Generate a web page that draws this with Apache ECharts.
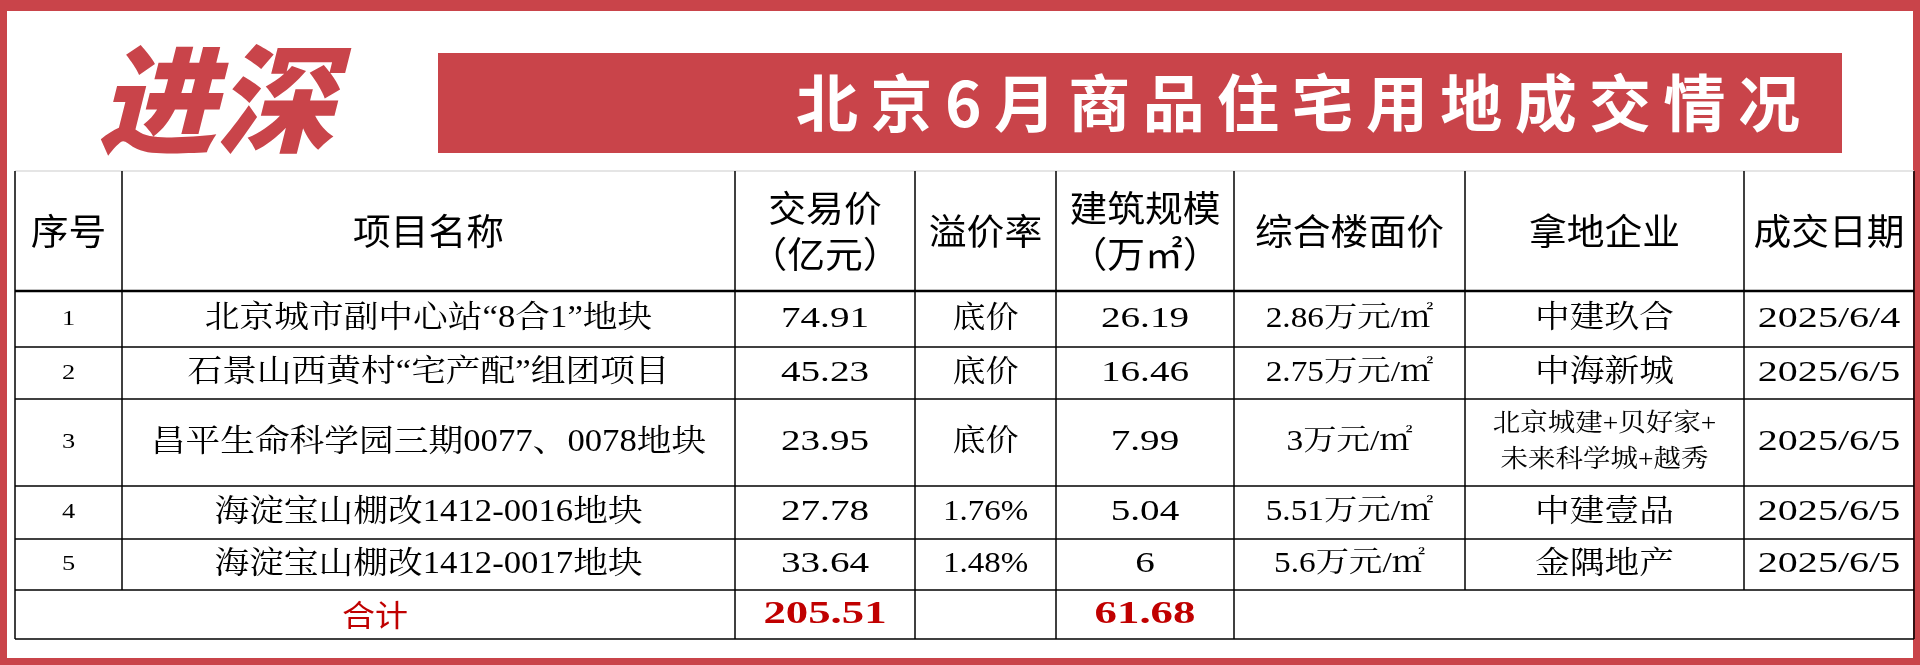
<!DOCTYPE html>
<html><head><meta charset="utf-8">
<script src="https://cdn.jsdelivr.net/npm/echarts@6/dist/echarts.min.js"></script>
<style>html,body{margin:0;padding:0;background:#fff}#main{width:1920px;height:665px}</style>
</head><body><div id="main"></div>
<script>
var title = '北京6月商品住宅用地成交情况';
var headers = ['序号', '项目名称', '交易价\n（亿元）', '溢价率', '建筑规模\n（万㎡）', '综合楼面价', '拿地企业', '成交日期'];
var seq = ['1', '2', '3', '4', '5'];
var names = ['北京城市副中心站“8合1”地块', '石景山西黄村“宅产配”组团项目', '昌平生命科学园三期0077、0078地块', '海淀宝山棚改1412-0016地块', '海淀宝山棚改1412-0017地块'];
var prices = ['74.91', '45.23', '23.95', '27.78', '33.64'];
var premium = ['底价', '底价', '底价', '1.76%', '1.48%'];
var scale = ['26.19', '16.46', '7.99', '5.04', '6'];
var floorPrice = ['2.86万元/㎡', '2.75万元/㎡', '3万元/㎡', '5.51万元/㎡', '5.6万元/㎡'];
var buyers = ['中建玖合', '中海新城', '北京城建+贝好家+\n未来科学城+越秀', '中建壹品', '金隅地产'];
var dates = ['2025/6/4', '2025/6/5', '2025/6/5', '2025/6/5', '2025/6/5'];
var totalLabel = '合计';
var totalPrice = '205.51';
var totalScale = '61.68';

var colX = [15, 122, 735, 915, 1056, 1234, 1465, 1744, 1914];
var rowY = [171, 291, 347, 399, 486, 539, 590, 639];
var red = '#c9444a';
var cjk = '"Noto Sans CJK SC", sans-serif';
var serif = '"Liberation Serif", "Noto Serif CJK SC", "Noto Sans CJK SC", serif';

var els = [];
// 外框
els.push({type: 'rect', shape: {x: 0, y: 0, width: 1920, height: 665}, style: {fill: red}});
els.push({type: 'rect', shape: {x: 7, y: 11, width: 1906, height: 647}, style: {fill: '#fff'}});
// logo
els.push({type: 'text', x: 98, y: 40, style: {text: '进深', font: 'italic 900 118px ' + cjk, fill: red}});
// 标题
els.push({type: 'rect', shape: {x: 438, y: 53, width: 1404, height: 100}, style: {fill: red}});
els.push({type: 'text', x: 1298, y: 103, style: {text: title.split('').join('\u2009'), font: 'bold 62px ' + cjk, fill: '#fff', align: 'center', verticalAlign: 'middle'}});

function cell(text, c, r, font, sx, color, lh) {
	els.push({type: 'text', x: (colX[c] + colX[c + 1]) / 2, y: (rowY[r] + rowY[r + 1]) / 2, scaleX: sx,
		style: {text: text, font: font, fill: color || '#000', align: 'center', verticalAlign: 'middle', lineHeight: lh || 46}});
}
headers.forEach(function (h, i) { cell(h, i, 0, '36px ' + cjk, 1.05); });
for (var i = 0; i < 5; i++) {
	var r = i + 1;
	cell(seq[i], 0, r, '22px ' + serif, 1.2);
	cell(names[i], 1, r, '31px ' + serif, 1.12);
	cell(prices[i], 2, r, '29px ' + serif, 1.35);
	cell(premium[i], 3, r, '30px ' + serif, 1.1);
	cell(scale[i], 4, r, '29px ' + serif, 1.35);
	cell(floorPrice[i], 5, r, '29px ' + serif, 1.15);
	if (i == 2) cell(buyers[i], 6, r, '25px ' + serif, 1.1, null, 36);
	else cell(buyers[i], 6, r, '31px ' + serif, 1.12);
	cell(dates[i], 7, r, '29px ' + serif, 1.38);
}
els.push({type: 'text', x: (colX[0] + colX[2]) / 2, y: (rowY[6] + rowY[7]) / 2, scaleX: 1.1, style: {text: totalLabel, font: '30px ' + cjk, fill: '#c00000', align: 'center', verticalAlign: 'middle'}});
cell(totalPrice, 2, 6, 'bold 32px ' + serif, 1.4, '#c00000');
cell(totalScale, 4, 6, 'bold 32px ' + serif, 1.4, '#c00000');

// 表格线
rowY.forEach(function (y, k) {
	els.push({type: 'line', shape: {x1: colX[0], y1: y, x2: colX[8], y2: y}, style: {stroke: k == 0 ? '#ddd' : '#000', lineWidth: k == 1 ? 2.5 : 1.5}});
});
colX.forEach(function (x, k) {
	var bottom = rowY[7];
	if (k == 1 || k == 6 || k == 7) bottom = rowY[6];
	els.push({type: 'line', shape: {x1: x, y1: rowY[0], x2: x, y2: bottom}, style: {stroke: '#000', lineWidth: 1.5}});
});

var chart = echarts.init(document.getElementById('main'));
chart.setOption({animation: false, graphic: {elements: els}});
</script></body></html>
